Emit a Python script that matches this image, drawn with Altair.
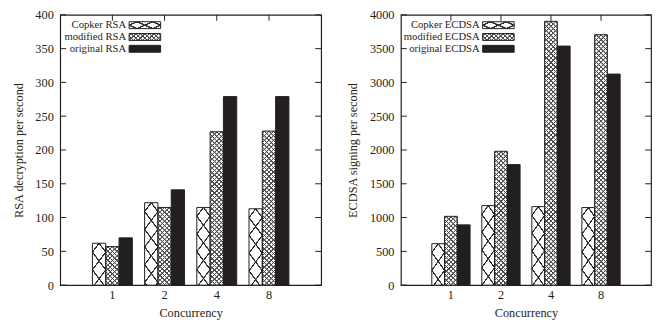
import altair as alt

# ---------------- data ----------------
cats = ["1", "2", "4", "8"]

rsa_series = ["Copker RSA", "modified RSA", "original RSA"]
rsa_copker = [62, 122, 115, 113]
rsa_modified = [57, 115, 227, 228]
rsa_original = [70, 141, 279, 279]
rsa_ticks = [0, 50, 100, 150, 200, 250, 300, 350, 400]

ecdsa_series = ["Copker ECDSA", "modified ECDSA", "original ECDSA"]
ecdsa_copker = [613, 1177, 1162, 1148]
ecdsa_modified = [1018, 1981, 3904, 3706]
ecdsa_original = [892, 1784, 3537, 3123]
ecdsa_ticks = [0, 500, 1000, 1500, 2000, 2500, 3000, 3500, 4000]

# ---------------- styling ----------------
FONT = "Liberation Serif"
INK = "#231f20"
SOLID = "#231f20"
HATCH = "#2e2e2e"
FINE = "#4a4a4a"
CLEAR = "rgba(255,255,255,0)"
PI = 0.235               # padding between clusters
PO = (1 + PI) / 2        # centres the 4 clusters at 1..4 of 5 steps
H = 274.5
TICK = 6


def hatch(w, h, c, s, lw, color, bg, falling):
    """Linear-gradient stripes (bounding-box units) that look like hatch lines."""
    h = max(h, 1.0)
    r = c / h
    k = (r + 1) / (r * r + 1)
    if falling:
        x1, y1, x2, y2 = 1.0, 0.0, 1.0 - k * r, k
    else:
        x1, y1, x2, y2 = 0.0, 0.0, k * r, k
    L = h + c
    half = lw / 2 / L
    edge = 0.45 / L
    stops = [{"offset": 0, "color": bg}]
    last = 0.0
    y = s / 2
    while y - lw < L:
        t = y / L
        for off, col in ((t - half - edge, bg), (t - half, color),
                         (t + half, color), (t + half + edge, bg)):
            off = min(max(off, last), 1.0)
            stops.append({"offset": round(off, 5), "color": col})
            last = off
        y += s
    stops.append({"offset": 1, "color": bg})
    return {"gradient": "linear", "x1": x1, "y1": y1, "x2": x2, "y2": y2,
            "stops": stops}


def fills(kind, w, h):
    if kind == 0:   # big X crosshatch
        return (hatch(w, h, 18, 18, 1.7, HATCH, "white", True),
                hatch(w, h, 18, 18, 1.7, HATCH, CLEAR, False))
    if kind == 1:   # fine crosshatch
        return (hatch(w, h, w, 4.6, 1.05, FINE, "white", True),
                hatch(w, h, w, 4.6, 1.05, FINE, CLEAR, False))
    return SOLID, "transparent"


def swatch_fills(kind):
    if kind == 0:
        return (hatch(32, 7, 14, 7, 1.2, HATCH, "white", True),
                hatch(32, 7, 14, 7, 1.2, HATCH, CLEAR, False))
    if kind == 1:
        return (hatch(32, 7, 32, 4.6, 1.05, FINE, "white", True),
                hatch(32, 7, 32, 4.6, 1.05, FINE, CLEAR, False))
    return SOLID, "transparent"


def panel(series, values, ymax, yticks, ytitle, W, txt_x, sw_x, rows):
    step = W / 5.0
    cluster = step * (1 - PI)
    bw = cluster / 3.0
    records = []
    for si, (name, vals) in enumerate(zip(series, values)):
        for c, v in zip(cats, vals):
            g1, g2 = fills(si, bw, v / ymax * H)
            records.append({"cat": c, "series": name, "value": v,
                            "g1": g1, "g2": g2})
    data = alt.Data(values=records)

    yscale = alt.Scale(domain=[0, ymax], nice=False, zero=True)
    xscale = alt.Scale(domain=cats, paddingInner=PI, paddingOuter=PO)
    xaxis = alt.Axis(title="Concurrency", ticks=False, domain=False,
                     labelAngle=0, labelPadding=4, titlePadding=5,
                     bandPosition=0.5, grid=False)
    yaxis = alt.Axis(values=yticks, title=ytitle, ticks=False, format="d",
                     domain=False, grid=False, labelPadding=7,
                     titlePadding=10)
    x = alt.X("cat:N", scale=xscale, axis=xaxis)
    xo = alt.XOffset("series:N",
                     scale=alt.Scale(domain=series, paddingInner=0,
                                     paddingOuter=0))
    y = alt.Y("value:Q", scale=yscale, stack=None, axis=yaxis)

    tick_data = alt.Data(values=[{"value": t} for t in yticks])
    cat_data = alt.Data(values=[{"cat": c} for c in cats])
    ty = alt.Y("value:Q", scale=yscale, axis=yaxis)
    tx = alt.X("cat:N", scale=xscale, bandPosition=0.5, axis=xaxis)

    layers = [
        alt.Chart(tick_data).mark_rule(color=INK, strokeWidth=1).encode(
            y=ty, x=alt.value(0), x2=alt.value(TICK)),
        alt.Chart(tick_data).mark_rule(color=INK, strokeWidth=1).encode(
            y=ty, x=alt.value(W - TICK), x2=alt.value(W)),
        alt.Chart(cat_data).mark_rule(color=INK, strokeWidth=1).encode(
            x=tx, y=alt.value(0), y2=alt.value(TICK)),
        alt.Chart(cat_data).mark_rule(color=INK, strokeWidth=1).encode(
            x=tx, y=alt.value(H - TICK), y2=alt.value(H)),
        alt.Chart(data).mark_bar(strokeWidth=0, width=alt.RelativeBandSize(1)).encode(
            x=x, xOffset=xo, y=y, fill=alt.Fill("g1:N", scale=None)),
        alt.Chart(data).mark_bar(stroke=INK, strokeWidth=1,
                                 width=alt.RelativeBandSize(1)).encode(
            x=x, xOffset=xo, y=y, fill=alt.Fill("g2:N", scale=None)),
    ]

    one = alt.Data(values=[{"k": 0}])
    for i, name in enumerate(series):
        f1, f2 = swatch_fills(i)
        ry = rows[i]
        layers.append(alt.Chart(one).mark_text(
            align="right", baseline="middle", font=FONT, fontSize=10.8,
            color=INK).encode(x=alt.value(txt_x), y=alt.value(ry),
                              text=alt.value(name)))
        layers.append(alt.Chart(one).mark_rect(strokeWidth=0).encode(
            x=alt.value(sw_x), x2=alt.value(sw_x + 32),
            y=alt.value(ry - 3.5), y2=alt.value(ry + 3.5),
            fill=alt.value(f1)))
        layers.append(alt.Chart(one).mark_rect(stroke=INK, strokeWidth=1).encode(
            x=alt.value(sw_x), x2=alt.value(sw_x + 32),
            y=alt.value(ry - 3.5), y2=alt.value(ry + 3.5),
            fill=alt.value(f2)))

    return alt.layer(*layers).properties(width=W, height=H)


rows = [10.5, 22.5, 34.5]
left = panel(rsa_series, [rsa_copker, rsa_modified, rsa_original], 400,
             rsa_ticks, "RSA decryption per second", 265, 67, 70, rows)
right = panel(ecdsa_series, [ecdsa_copker, ecdsa_modified, ecdsa_original],
              4000, ecdsa_ticks, "ECDSA signing per second", 254, 80, 83, rows)

chart = (
    alt.hconcat(left, right, spacing=23)
    .resolve_scale(x="independent", y="independent", xOffset="independent")
    .properties(padding={"left": 3, "top": -2.5, "right": 0, "bottom": 0},
                background="white")
    .configure_view(stroke=INK, strokeWidth=1.2)
    .configure_axis(labelFont=FONT, titleFont=FONT, labelFontSize=12.5,
                    titleFontSize=12.5, titleFontWeight="normal",
                    labelColor=INK, titleColor=INK)
)

chart.save("out.html", embed_options={"renderer": "svg", "actions": False})
